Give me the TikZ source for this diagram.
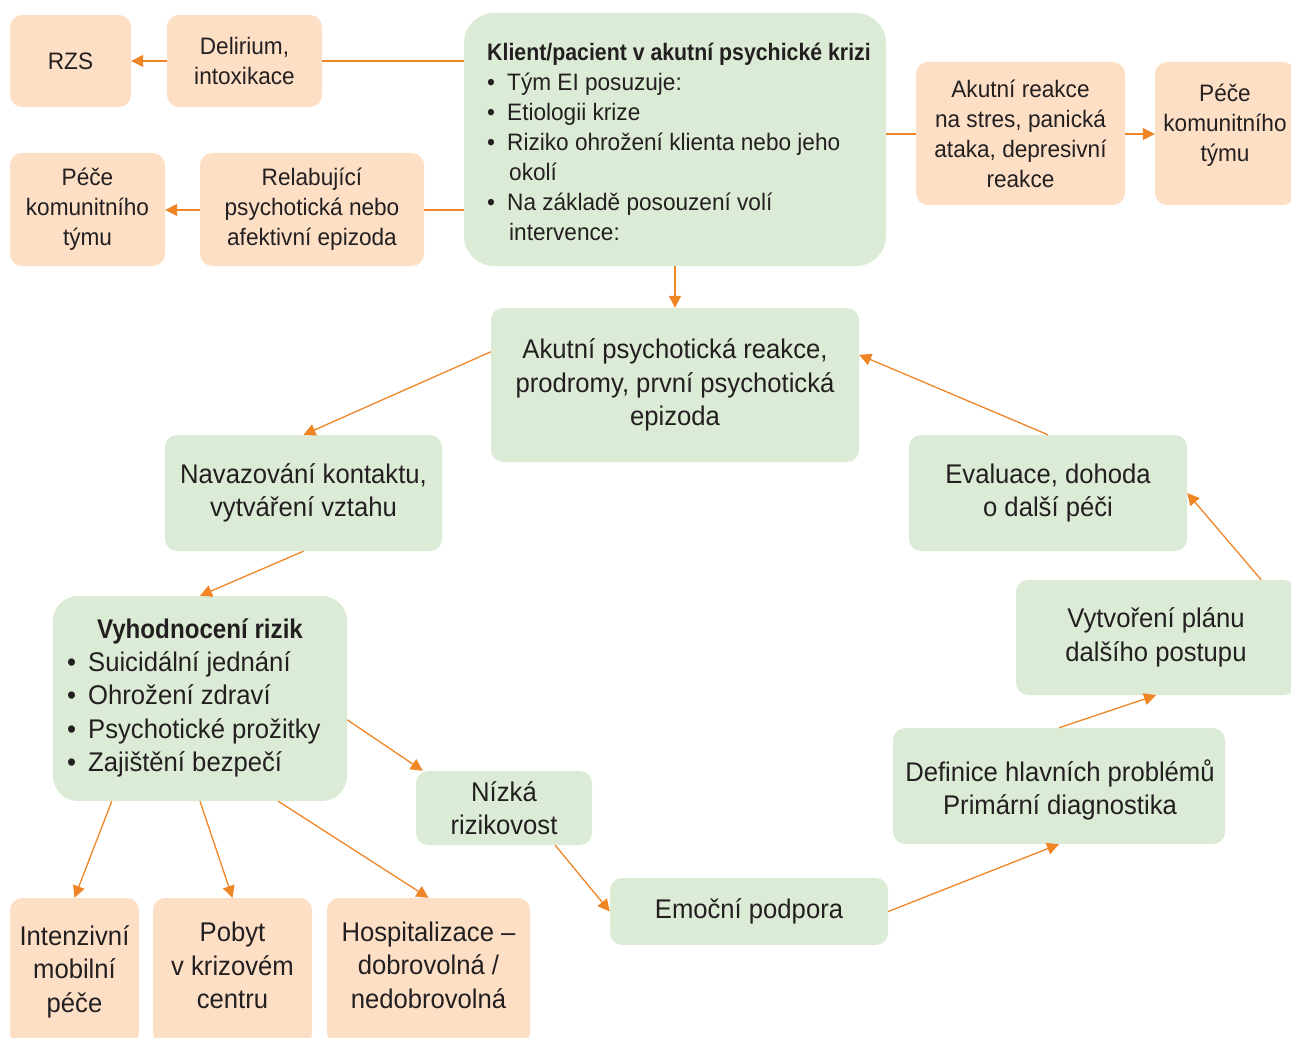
\documentclass[tikz,border=0pt]{standalone}
\usepackage{fontspec}
\setmainfont{Liberation Sans}[FakeStretch=0.95, BoldFeatures={FakeStretch=0.895}]
\usetikzlibrary{arrows.meta}
\definecolor{ofill}{HTML}{FDDFC6}
\definecolor{gfill}{HTML}{DCEBD5}
\definecolor{oline}{HTML}{F08526}
\definecolor{tcol}{HTML}{231F20}
\newcommand\mybul{\makebox[20pt][l]{\textbullet}}
\newcommand\mybulb{\makebox[21pt][l]{\textbullet}}
\begin{document}
\begin{tikzpicture}[x=1pt,y=-1pt,
  sm/.style={font=\fontsize{23.8}{30}\selectfont, align=center, text=tcol, inner sep=0pt},
  lg/.style={font=\fontsize{27}{33.5}\selectfont, align=center, text=tcol, inner sep=0pt},
  obox/.style={fill=ofill, rounded corners=12pt, inner sep=0pt},
  gbox/.style={fill=gfill, rounded corners=12pt, inner sep=0pt},
  con/.style={draw=oline, line width=1.3pt},
  arr/.style={con, -{Triangle[length=12pt,width=12pt]}}]
\clip (0,0) rectangle (1291,1038);
% top orange boxes
\node[obox, minimum width=121pt, minimum height=92pt, sm] (rzs) at (70.5,61) {RZS};
\node[obox, minimum width=155pt, minimum height=92pt, sm] (del) at (244.5,61) {Delirium,\\intoxikace};
\node[obox, minimum width=155pt, minimum height=113pt, sm] (pl) at (87.5,209.5) {Péče\\komunitního\\týmu};
\node[obox, minimum width=224pt, minimum height=113pt, sm] (rel) at (312,209.5) {Relabující\\psychotická nebo\\afektivní epizoda};
\node[obox, minimum width=209pt, minimum height=143pt, sm] (ar) at (1020.5,133.5) {Akutní reakce\\na stres, panická\\ataka, depresivní\\reakce};
\node[obox, minimum width=140pt, minimum height=143pt] (pr) at (1225,133.5) {};
\node[sm] (prt) at (1225,125) {Péče\\komunitního\\týmu};
% main box
\node[gbox, rounded corners=30pt, minimum width=422pt, minimum height=253pt] (main) at (675,139.5) {};
\node[sm, align=left, anchor=west] (maint) at (487,142) {\textbf{Klient/pacient v akutní psychické krizi}\\
\mybul Tým EI posuzuje:\\
\mybul Etiologii krize\\
\mybul Riziko ohrožení klienta nebo jeho\\
\hspace*{22pt}okolí\\
\mybul Na základě posouzení volí\\
\hspace*{22pt}intervence:};
% green cycle
\node[gbox, minimum width=368pt, minimum height=154pt, lg] (ap) at (675,385) {Akutní psychotická reakce,\\prodromy, první psychotická\\epizoda};
\node[gbox, minimum width=277pt, minimum height=116pt, lg] (nav) at (303.5,493) {Navazování kontaktu,\\vytváření vztahu};
\node[gbox, minimum width=278pt, minimum height=116pt, lg] (ev) at (1048,493) {Evaluace, dohoda\\o další péči};
\node[gbox, rounded corners=25pt, minimum width=294pt, minimum height=205pt] (vy) at (200,698.5) {};
\node[lg] (vyt) at (200,631) {\textbf{Vyhodnocení rizik}};
\node[lg, align=left, anchor=west] (vyl) at (67,714.5) {\mybulb Suicidální jednání\\
\mybulb Ohrožení zdraví\\
\mybulb Psychotické prožitky\\
\mybulb Zajištění bezpečí};
\node[gbox, minimum width=176pt, minimum height=74pt, lg] (nz) at (504,808) {Nízká\\rizikovost};
\node[gbox, minimum width=278pt, minimum height=67pt, lg] (em) at (749,911.5) {Emoční podpora};
\node[gbox, minimum width=332pt, minimum height=116pt] (df) at (1059,786) {};
\node[lg] (dft) at (1060,790) {Definice hlavních problémů\\Primární diagnostika};
\node[gbox, minimum width=280pt, minimum height=115pt, lg] (vt) at (1156,637.5) {Vytvoření plánu\\dalšího postupu};
% bottom orange
\node[obox, minimum width=129pt, minimum height=147pt, lg] (in) at (74.5,971.5) {Intenzivní\\mobilní\\péče};
\node[obox, minimum width=159pt, minimum height=147pt] (po) at (232.5,971.5) {};
\node[lg] (pot) at (232.5,965.5) {Pobyt\\v krizovém\\centru};
\node[obox, minimum width=203pt, minimum height=147pt] (ho) at (428.5,971.5) {};
\node[lg] (hot) at (428.5,965) {Hospitalizace –\\dobrovolná /\\nedobrovolná};
% connectors
\draw[con] (main.west |- del.east) -- (del.east);
\draw[arr] (del.west) -- (rzs.east);
\draw[con] ([yshift=-0.5pt]main.west |- rel.east) -- ([yshift=-0.5pt]rel.east);
\draw[arr] ([yshift=-0.5pt]rel.west) -- ([yshift=-0.5pt]pl.east);
\draw[con] ([yshift=-0.5pt]main.east |- ar.west) -- ([yshift=-0.5pt]ar.west);
\draw[arr] ([yshift=-0.5pt]ar.east) -- ([yshift=-0.5pt]pr.west);
\draw[arr] (main.south) -- (ap.north);
\draw[arr] ([yshift=-44pt]ap.north west) -- (nav.north);
\draw[arr] (nav.south) -- (vy.north);
\draw[arr] ([yshift=-124pt]vy.north east) -- ([xshift=7pt]nz.north west);
\draw[arr] ([xshift=59pt]vy.south west) -- (in.north);
\draw[arr] (vy.south) -- (po.north);
\draw[arr] ([xshift=-69pt]vy.south east) -- (ho.north);
\draw[arr] ([xshift=-37pt]nz.south east) -- (em.west);
\draw[arr] (em.east) -- (df.south);
\draw[arr] (df.north) -- (vt.south);
\draw[arr] ([xshift=-35pt]vt.north east) -- (ev.east);
\draw[arr] (ev.north) -- ([yshift=-47pt]ap.north east);
\end{tikzpicture}
\end{document}
